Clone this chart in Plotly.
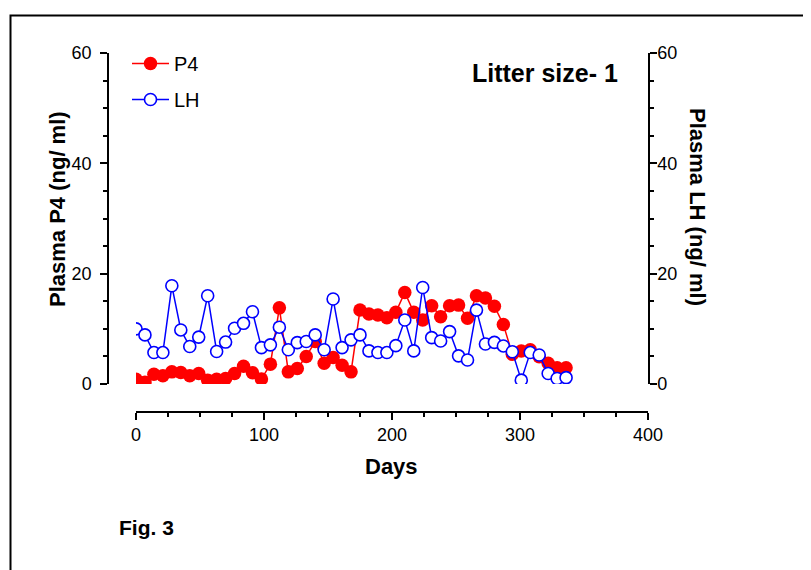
import plotly.graph_objects as go

days = [0, 7, 14, 21, 28, 35, 42, 49, 56, 63, 70, 77, 84, 91, 98, 105, 112, 119, 126, 133,
        140, 147, 154, 161, 168, 175, 182, 189, 196, 203, 210, 217, 224, 231, 238, 245, 252,
        259, 266, 273, 280, 287, 294, 301, 308, 315, 322, 329, 336]
p4 = [0.85, 0.3, 1.75, 1.5, 2.2, 2.1, 1.5, 1.9, 0.7, 0.85, 1.0, 1.9, 3.2, 2.05, 0.9, 3.6,
      13.8, 2.2, 2.8, 5.0, 7.7, 3.75, 4.8, 3.4, 2.2, 13.4, 12.7, 12.5, 12.0, 13.0, 16.6, 13.0,
      11.6, 14.2, 12.2, 14.2, 14.3, 11.9, 16.0, 15.6, 14.1, 10.8, 5.4, 6.0, 6.2, 4.95, 3.75,
      2.95, 2.95]
lh = [10.0, 8.9, 5.7, 5.7, 17.8, 9.8, 6.8, 8.5, 16.0, 5.9, 7.6, 10.1, 11.0, 13.1, 6.6, 7.1,
      10.3, 6.2, 7.5, 7.7, 8.9, 6.2, 15.4, 6.6, 8.0, 8.9, 6.0, 5.7, 5.7, 6.95, 11.6, 6.0, 17.5,
      8.4, 7.8, 9.5, 5.1, 4.35, 13.4, 7.25, 7.55, 6.9, 5.85, 0.7, 5.7, 5.25, 1.9, 1.0, 1.15]

W, H = 811, 570
OFF = 8  # page body margin offset
FONT = "Arial, Liberation Sans, sans-serif"

def px(x):
    return (x - OFF) / W

def py(y):
    return 1 - (y - OFF) / H

fig = go.Figure()
fig.add_trace(go.Scatter(
    x=days, y=lh, name="LH", mode="lines+markers", yaxis="y2",
    line=dict(color="#0000ff", width=1.5),
    marker=dict(symbol="circle", size=12, color="white", line=dict(color="#0000ff", width=1.6)),
    legendrank=2, legendgroup="lh"))
fig.add_trace(go.Scatter(
    x=days, y=p4, name="P4", mode="lines+markers",
    line=dict(color="#ff0000", width=1.5),
    marker=dict(symbol="circle", size=13.5, color="#ff0000"),
    legendrank=1, legendgroup="p4"))

axis_common = dict(showgrid=False, zeroline=False, showline=True, linecolor="black",
                   linewidth=1.5, ticks="outside", ticklen=7, tickwidth=1.5, tickcolor="black",
                   tickfont=dict(family=FONT, size=18, color="black"), automargin=False)
minor_y = dict(dtick=5, ticklen=4, tickwidth=1.5, tickcolor="black", ticks="outside")

fig.update_layout(
    width=W, height=H,
    margin=dict(l=0, r=0, t=0, b=0),
    paper_bgcolor="white", plot_bgcolor="white",
    xaxis=dict(domain=[px(136), px(648)], range=[0, 400], anchor="free", position=py(412),
               dtick=100, tick0=0,
               minor=dict(dtick=25, ticklen=4, tickwidth=1.5, tickcolor="black", ticks="outside"),
               **axis_common),
    yaxis=dict(domain=[py(384), py(53)], range=[0, 60], anchor="free", position=px(108),
               dtick=20, tick0=0, minor=minor_y, ticklabelstandoff=5, **axis_common),
    yaxis2=dict(domain=[py(384), py(53)], range=[0, 60], anchor="free", position=px(649),
                overlaying="y", side="right", dtick=20, tick0=0, minor=minor_y,
                ticklabelstandoff=-3, **axis_common),
    showlegend=True,
    legend=dict(x=px(127), y=py(44), xanchor="left", yanchor="top",
                font=dict(family=FONT, size=20, color="black"), itemwidth=37,
                bgcolor="rgba(0,0,0,0)", tracegroupgap=7),
    shapes=[dict(type="rect", xref="paper", yref="paper",
                 x0=px(10.5), x1=1.05, y0=-0.05, y1=py(15.5),
                 line=dict(color="black", width=2), fillcolor="rgba(0,0,0,0)")],
    annotations=[
        dict(text="<b>Litter size- 1</b>", x=px(545), y=py(73), xref="paper", yref="paper",
             showarrow=False, xanchor="center", yanchor="middle",
             font=dict(family=FONT, size=25, color="black")),
        dict(text="<b>Fig. 3</b>", x=px(117), y=py(527), xref="paper", yref="paper",
             showarrow=False, xanchor="left", yanchor="middle",
             font=dict(family=FONT, size=21, color="black")),
        dict(text="<b>Days</b>", x=px(391), y=py(466), xref="paper", yref="paper",
             showarrow=False, xanchor="center", yanchor="middle",
             font=dict(family=FONT, size=22, color="black")),
        dict(text="<b>Plasma P4 (ng/ ml)</b>", x=px(57), y=py(209), xref="paper", yref="paper",
             showarrow=False, xanchor="center", yanchor="middle", textangle=-90,
             font=dict(family=FONT, size=22, color="black")),
        dict(text="<b>Plasma LH (ng/ ml)</b>", x=px(698), y=py(207), xref="paper", yref="paper",
             showarrow=False, xanchor="center", yanchor="middle", textangle=90,
             font=dict(family=FONT, size=22, color="black")),
    ],
)

fig.write_html("out.html")
